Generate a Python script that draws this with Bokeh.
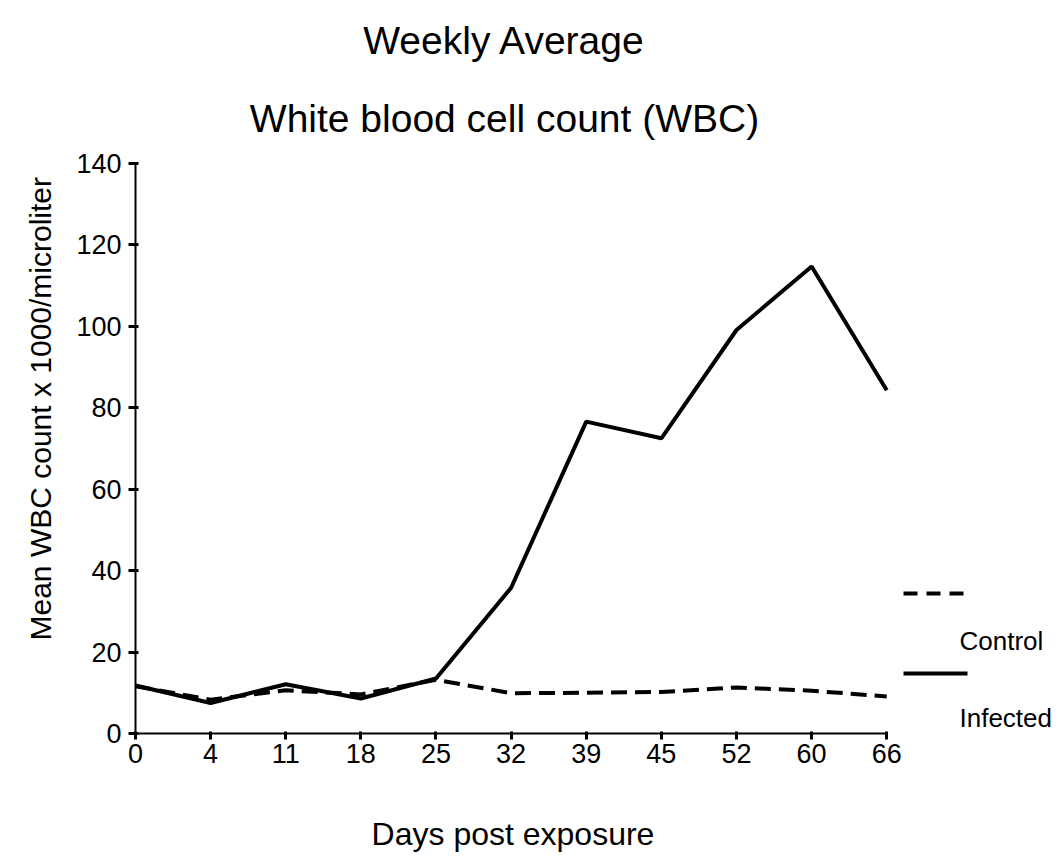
from bokeh.plotting import figure
from bokeh.layouts import row
from bokeh.models import Range1d, FixedTicker, Title, ColumnDataSource
from bokeh.core.properties import value
from bokeh.embed import file_html
from bokeh.resources import INLINE

# ---- data ----
days = ["0", "4", "11", "18", "25", "32", "39", "45", "52", "60", "66"]
infected = [11.8, 7.5, 12.1, 8.6, 13.5, 35.8, 76.6, 72.5, 99.1, 114.7, 84.3]
control = [11.6, 8.3, 10.6, 9.6, 13.2, 9.9, 10.0, 10.2, 11.3, 10.5, 9.1]
y_ticks = [0, 20, 40, 60, 80, 100, 120, 140]
title_lines = ["Weekly Average", "White blood cell count (WBC)"]
x_label = "Days post exposure"
y_label = "Mean WBC count x 1000/microliter"
series_names = ["Control", "Infected"]

FONT = "Liberation Sans"
pos = list(range(len(days)))
H = 861

p = figure(width=902, height=H, output_backend="svg", toolbar_location=None,
           x_range=Range1d(0, 10.05), y_range=Range1d(0, 180.03),
           min_border_left=135, min_border_right=12, min_border_top=0,
           min_border_bottom=128)
p.outline_line_color = None
p.grid.visible = False
p.background_fill_color = "white"
p.border_fill_color = "white"

src = ColumnDataSource(dict(x=pos, inf=infected, ctl=control))
p.line("x", "ctl", source=src, line_color="black", line_width=4, line_dash="16 8")
p.line("x", "inf", source=src, line_color="black", line_width=4)

# x axis
xa = p.xaxis[0]
xa.bounds = (0, len(days) - 1)
xa.ticker = FixedTicker(ticks=pos)
xa.major_label_overrides = {i: d for i, d in zip(pos, days)}
xa.minor_tick_line_color = None
xa.axis_line_width = 2
xa.major_tick_line_width = 3
xa.major_tick_out = 6
xa.major_tick_in = 2
xa.major_label_standoff = 4
xa.major_label_text_font = FONT
xa.major_label_text_font_size = "27px"
xa.major_label_text_color = "black"
xa.axis_label = x_label
xa.axis_label_text_font = FONT
xa.axis_label_text_font_size = "32px"
xa.axis_label_text_font_style = "normal"
xa.axis_label_text_color = "black"
xa.axis_label_standoff = 50

# y axis
ya = p.yaxis[0]
ya.bounds = (0, 140)
ya.ticker = FixedTicker(ticks=y_ticks)
ya.minor_tick_line_color = None
ya.axis_line_width = 2
ya.major_tick_line_width = 3
ya.major_tick_out = 7
ya.major_tick_in = 3
ya.major_label_standoff = 7
ya.major_label_text_font = FONT
ya.major_label_text_font_size = "27px"
ya.major_label_text_color = "black"

# y axis label as a left-side title, starting above the frame bottom
p.add_layout(Title(text=y_label, align="left", offset=93, standoff=34,
                   text_font=FONT, text_font_size="30px", text_font_style="normal",
                   text_color="black"), "left")

# two-line title
p.text(x=[4.912, 4.912], y=[170.2, 151.05], text=title_lines, text_align="center",
       text_baseline="alphabetic", text_font=value(FONT), text_font_size="39px",
       text_color="black")

# ---- legend panel to the right (pixel-like layout coordinates) ----
lg = figure(width=150, height=H, output_backend="svg", toolbar_location=None,
            x_range=Range1d(902, 1052), y_range=Range1d(733, 0),
            x_axis_type=None, y_axis_type=None,
            min_border_left=0, min_border_right=0, min_border_top=0,
            min_border_bottom=128)
lg.outline_line_color = None
lg.background_fill_color = "white"
lg.border_fill_color = "white"
lg.segment(x0=[903], y0=[593], x1=[965], y1=[593], line_color="black",
           line_width=4, line_dash="14 9")
lg.segment(x0=[903], y0=[673], x1=[967], y1=[673], line_color="black",
           line_width=4)
lg.text(x=[959, 959], y=[640, 717], text=series_names, text_align="left",
        text_baseline="middle", text_font=value(FONT), text_font_size="26px",
        text_color="black")

layout = row(p, lg)
open("out.html", "w").write(file_html(layout, INLINE))
